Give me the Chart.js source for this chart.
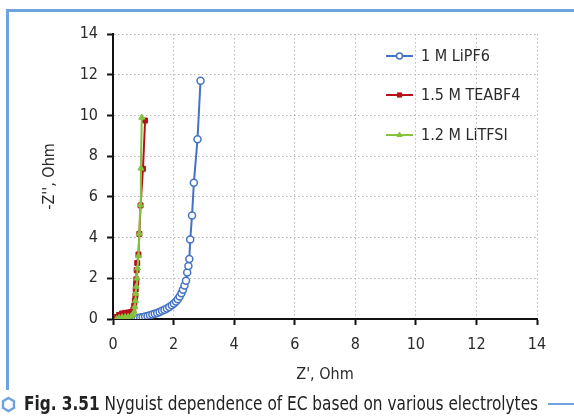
<!DOCTYPE html>
<html>
<head>
<meta charset="utf-8">
<script src="https://cdn.jsdelivr.net/npm/chart.js@4.4.1/dist/chart.umd.min.js"></script>
<style>
  html, body { margin: 0; padding: 0; background: #fff; }
  #wrap { position: relative; width: 574px; height: 416px; overflow: hidden; background: #fff; }
  #wrap canvas { position: absolute; left: 0; top: 0; }
  .frame-top { position: absolute; left: 6px; top: 9px; width: 568px; height: 3px; background: #6fa3dd; }
  .frame-left { position: absolute; left: 6px; top: 9px; width: 3px; height: 381px; background: #6fa3dd; }
  .cap-line { position: absolute; left: 548px; top: 403px; width: 26px; height: 2px; background: #6fa3dd; }
  .hex { position: absolute; left: 0px; top: 396px; }
  #caption {
    position: absolute; left: 24px; top: 392px; white-space: nowrap;
    font-family: "DejaVu Sans Condensed", "Liberation Sans Narrow", sans-serif;
    font-size: 19px; color: #222; transform-origin: 0 0;
  }
  #caption b { font-weight: bold; }
</style>
</head>
<body>
<div id="wrap">
  <canvas id="nyquist" width="574" height="416"></canvas>
  <div class="frame-top"></div>
  <div class="frame-left"></div>
  <svg class="hex" width="17" height="17" viewBox="0 0 17 17">
    <polygon points="8.5,2 14,5.2 14,11.8 8.5,15 3,11.8 3,5.2" fill="none" stroke="#6fa3dd" stroke-width="2.4"/>
  </svg>
  <div id="caption"><b>Fig. 3.51</b> Nyguist dependence of EC based on various electrolytes</div>
  <div class="cap-line"></div>
</div>
<script>
// series values (Z' and -Z'' in Ohm)
const seriesNames = ['1 M LiPF6', '1.5 M TEABF4', '1.2 M LiTFSI'];

const lipf6X = [0.75, 0.82, 0.9, 0.98, 1.06, 1.14, 1.22, 1.3, 1.38, 1.46, 1.54, 1.62, 1.7, 1.78, 1.86, 1.94, 2.01, 2.08, 2.14, 2.2, 2.26, 2.31, 2.36, 2.41, 2.45, 2.49, 2.52, 2.55, 2.61, 2.67, 2.79, 2.89];
const lipf6Y = [0.0, 0.04, 0.07, 0.09, 0.12, 0.15, 0.18, 0.22, 0.26, 0.3, 0.35, 0.4, 0.46, 0.52, 0.59, 0.67, 0.76, 0.86, 0.97, 1.1, 1.26, 1.44, 1.65, 1.88, 2.29, 2.6, 2.95, 3.9, 5.08, 6.69, 8.83, 11.7];

const teabf4X = [0.12, 0.2, 0.3, 0.4, 0.5, 0.6, 0.67, 0.7, 0.72, 0.74, 0.75, 0.76, 0.77, 0.78, 0.8, 0.84, 0.87, 0.91, 0.99, 1.06];
const teabf4Y = [0.1, 0.2, 0.27, 0.3, 0.32, 0.35, 0.45, 0.65, 0.9, 1.15, 1.45, 1.7, 1.95, 2.4, 2.75, 3.17, 4.18, 5.58, 7.38, 9.75];

const litfsiX = [0.12, 0.2, 0.3, 0.4, 0.5, 0.6, 0.66, 0.7, 0.72, 0.74, 0.75, 0.77, 0.79, 0.81, 0.84, 0.87, 0.9, 0.92, 0.95];
const litfsiY = [0.0, 0.05, 0.08, 0.1, 0.11, 0.13, 0.2, 0.35, 0.6, 0.9, 1.25, 1.6, 2.0, 2.5, 3.1, 4.2, 5.6, 7.4, 9.9];

const xTicks = [0, 2, 4, 6, 8, 10, 12, 14];
const yTicks = [0, 2, 4, 6, 8, 10, 12, 14];

const colors = ['#4472c4', '#b5121b', '#86c23f'];
const FONT = '"DejaVu Sans Condensed", "Liberation Sans Narrow", sans-serif';

function toPoints(xs, ys) {
    return xs.map((x, i) => ({ x: x, y: ys[i] }));
}

// squeeze the caption to the width it has in the figure
const cap = document.getElementById('caption');
cap.style.transform = 'scaleX(' + (514 / cap.offsetWidth) + ')';

// legend drawn inside the plot, top right
const insideLegend = {
    id: 'insideLegend',
    afterDatasetsDraw(chart) {
        const ctx = chart.ctx;
        const area = chart.chartArea;
        const x0 = area.right - 151;
        const rows = [area.top + 22, area.top + 61, area.top + 101];
        ctx.save();
        chart.data.datasets.forEach((ds, i) => {
            const y = rows[i];
            ctx.strokeStyle = ds.borderColor;
            ctx.lineWidth = 2;
            ctx.beginPath();
            ctx.moveTo(x0, y);
            ctx.lineTo(x0 + 27, y);
            ctx.stroke();
            ctx.fillStyle = ds.backgroundColor;
            ctx.lineWidth = ds.pointBorderWidth;
            Chart.helpers.drawPoint(ctx, {
                pointStyle: ds.pointStyle,
                radius: 3,
                borderWidth: ds.pointBorderWidth
            }, x0 + 13.5, y);
            ctx.fillStyle = '#2a2a2a';
            ctx.font = '16px ' + FONT;
            ctx.textBaseline = 'middle';
            ctx.textAlign = 'left';
            ctx.fillText(ds.label, x0 + 35, y + 1);
        });
        ctx.restore();
    }
};

const chart = new Chart(document.getElementById('nyquist').getContext('2d'), {
    type: 'scatter',
    data: {
        datasets: [
            {
                label: seriesNames[0],
                data: toPoints(lipf6X, lipf6Y),
                showLine: true,
                order: 3,
                borderColor: colors[0],
                backgroundColor: '#ffffff',
                borderWidth: 2,
                pointStyle: 'circle',
                pointRadius: 3.5,
                pointBorderWidth: 1.5
            },
            {
                label: seriesNames[1],
                data: toPoints(teabf4X, teabf4Y),
                showLine: true,
                order: 2,
                borderColor: colors[1],
                backgroundColor: colors[1],
                borderWidth: 2,
                pointStyle: 'rect',
                pointRadius: 3.5,
                pointBorderWidth: 1
            },
            {
                label: seriesNames[2],
                data: toPoints(litfsiX, litfsiY),
                showLine: true,
                order: 1,
                borderColor: colors[2],
                backgroundColor: colors[2],
                borderWidth: 2,
                pointStyle: 'triangle',
                pointRadius: 3.5,
                pointBorderWidth: 1
            }
        ]
    },
    options: {
        responsive: false,
        animation: false,
        layout: { padding: { left: 35, right: 37, top: 34, bottom: 27 } },
        plugins: {
            legend: { display: false },
            tooltip: { enabled: false }
        },
        scales: {
            x: {
                type: 'linear',
                min: 0,
                max: 14,
                afterBuildTicks: (scale) => { scale.ticks = xTicks.map(v => ({ value: v })); },
                afterFit: (scale) => { scale.height = 70; },
                ticks: { color: '#2a2a2a', font: { family: FONT, size: 16 }, padding: 10, maxRotation: 0 },
                grid: { color: '#b8b8b8', lineWidth: 1, tickColor: '#111', tickWidth: 2, tickLength: 6 },
                border: { display: true, color: '#111', width: 2, dash: [1.5, 2.5] },
                title: { display: true, text: "Z', Ohm", color: '#2a2a2a', font: { family: FONT, size: 16 }, padding: { top: 4, bottom: 5 } }
            },
            y: {
                type: 'linear',
                min: 0,
                max: 14,
                afterBuildTicks: (scale) => { scale.ticks = yTicks.map(v => ({ value: v })); },
                afterFit: (scale) => { scale.width = 78; },
                ticks: { color: '#2a2a2a', font: { family: FONT, size: 16 }, padding: 9 },
                grid: { color: '#b8b8b8', lineWidth: 1, tickColor: '#111', tickWidth: 2, tickLength: 6 },
                border: { display: true, color: '#111', width: 2, dash: [1.5, 2.5] },
                title: { display: true, text: "-Z'', Ohm", color: '#2a2a2a', font: { family: FONT, size: 16 }, padding: { top: 5, bottom: 4 } }
            }
        }
    },
    plugins: [insideLegend]
});
</script>
</body>
</html>
